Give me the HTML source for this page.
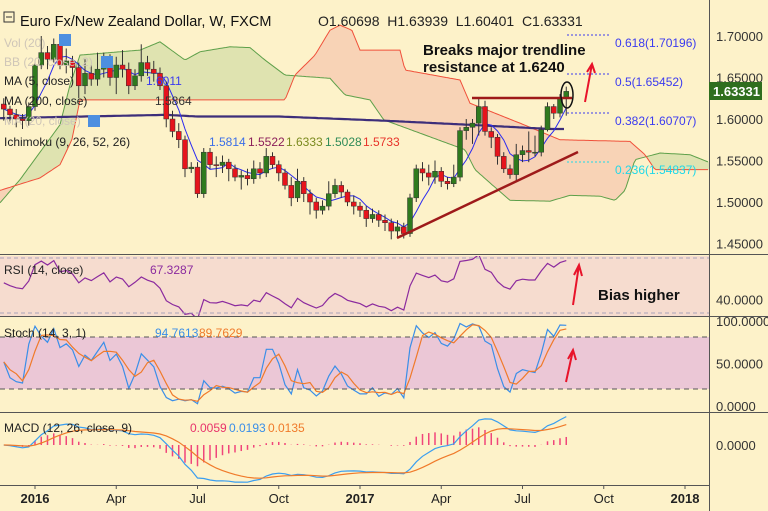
<!DOCTYPE html>
<html><head><meta charset="utf-8">
<style>
html,body{margin:0;padding:0;background:#fdf2c9;}
svg{display:block;font-family:"Liberation Sans",sans-serif;}
</style></head>
<body>
<svg id="chart" width="768" height="511" viewBox="0 0 768 511" xmlns="http://www.w3.org/2000/svg">
<defs>
<clipPath id="cp-price"><rect x="0" y="0" width="709" height="254"/></clipPath>
<clipPath id="cp-rsi"><rect x="0" y="256" width="709" height="60"/></clipPath>
<clipPath id="cp-stoch"><rect x="0" y="318" width="709" height="94"/></clipPath>
<clipPath id="cp-macd"><rect x="0" y="414" width="709" height="71"/></clipPath>
</defs>
<rect x="0" y="0" width="768" height="511" fill="#fdf2c9"/>
<rect x="0" y="256" width="709" height="60" fill="#f6dccf"/>
<rect x="0" y="337" width="709" height="52" fill="#ebc7d6"/>
<g id="cloud" clip-path="url(#cp-price)"></g>
<g id="price" clip-path="url(#cp-price)"></g>
<g id="rsi" clip-path="url(#cp-rsi)"></g>
<g id="stoch" clip-path="url(#cp-stoch)"></g>
<g id="macd" clip-path="url(#cp-macd)"></g>
<g id="axes"></g>

<line x1="0" y1="254.5" x2="768" y2="254.5" stroke="#555"/>
<line x1="0" y1="316.5" x2="768" y2="316.5" stroke="#555"/>
<line x1="0" y1="412.5" x2="768" y2="412.5" stroke="#555"/>
<line x1="0" y1="485.5" x2="709" y2="485.5" stroke="#555"/>
<line x1="709.5" y1="0" x2="709.5" y2="511" stroke="#555"/>
<line x1="0" y1="258" x2="709" y2="258" stroke="#a9a3b8" stroke-dasharray="4,3"/>
<line x1="0" y1="313" x2="709" y2="313" stroke="#a9a3b8" stroke-dasharray="4,3"/>
<line x1="0" y1="337" x2="709" y2="337" stroke="#555" stroke-dasharray="5,4"/>
<line x1="0" y1="389" x2="709" y2="389" stroke="#555" stroke-dasharray="5,4"/>

<g>
<rect x="4" y="12" width="10" height="10" fill="none" stroke="#333"/>
<line x1="6" y1="17" x2="12" y2="17" stroke="#333"/>
<text x="20" y="26" fill="#111" font-size="14.5">Euro Fx/New Zealand Dollar, W, FXCM</text>
<text x="318" y="26" fill="#222" font-size="14">O1.60698&#160;&#160;H1.63939&#160;&#160;L1.60401&#160;&#160;C1.63331</text>
</g>
<g font-size="12">
<text x="4" y="47" fill="#cfc6b8">Vol (20)</text>
<text x="4" y="66" fill="#cfc6b8">BB (20, close, 2)</text>
<text x="4" y="85" fill="#222">MA (5, close)</text>
<text x="146" y="85" fill="#3a3af0">1.6011</text>
<text x="4" y="105" fill="#222">MA (200, close)</text>
<text x="155" y="105" fill="#333">1.5864</text>
<text x="4" y="125" fill="#cfc6b8">MA (20, close)</text>
<text x="4" y="146" fill="#222">Ichimoku (9, 26, 52, 26)</text>
<text x="209" y="146" fill="#3a6ee8">1.5814</text>
<text x="248" y="146" fill="#8b1e5a">1.5522</text>
<text x="286" y="146" fill="#7a8a1e">1.6333</text>
<text x="325" y="146" fill="#2e8b57">1.5028</text>
<text x="363" y="146" fill="#e8332a">1.5733</text>
<rect x="59" y="34" width="12" height="12" fill="#4d8fe0"/>
<rect x="101" y="56" width="12" height="12" fill="#4d8fe0"/>
<rect x="88" y="115" width="12" height="12" fill="#4d8fe0"/>
<text x="4" y="274" fill="#222">RSI (14, close)</text>
<text x="150" y="274" fill="#8b2a9e">67.3287</text>
<text x="4" y="337" fill="#222">Stoch (14, 3, 1)</text>
<text x="155" y="337" fill="#3a8ee8">94.7613</text>
<text x="199" y="337" fill="#f07a2a">89.7629</text>
<text x="4" y="432" fill="#222">MACD (12, 26, close, 9)</text>
<text x="190" y="432" fill="#e8336b">0.0059</text>
<text x="229" y="432" fill="#3a8ee8">0.0193</text>
<text x="268" y="432" fill="#f07a2a">0.0135</text>
</g>

<g>
<text x="423" y="55" font-size="15" font-weight="bold" fill="#111">Breaks major trendline</text>
<text x="423" y="72" font-size="15" font-weight="bold" fill="#111">resistance at 1.6240</text>
<line x1="472" y1="98" x2="572" y2="98" stroke="#9e1a1a" stroke-width="2.5"/>
<line x1="397" y1="238" x2="578" y2="152" stroke="#9e1a1a" stroke-width="2.5"/>
<ellipse cx="567" cy="95" rx="6" ry="13" fill="none" stroke="#111" stroke-width="1.5"/>
<g stroke="#e8132a" stroke-width="2" fill="none">
<path d="M585 102 L592 64 M587 72 L592 64 L595 73"/>
<path d="M573 305 L579 265 M574 275 L579 265 L582 276"/>
<path d="M566 382 L573 350 M568 359 L573 350 L576 360"/>
</g>
<text x="598" y="300" font-size="15" font-weight="bold" fill="#111">Bias higher</text>
<g stroke-dasharray="2,2" stroke-width="1">
<line x1="567" y1="35" x2="610" y2="35" stroke="#3a3af0"/>
<line x1="567" y1="74" x2="610" y2="74" stroke="#3a3af0"/>
<line x1="567" y1="113" x2="610" y2="113" stroke="#3a3af0"/>
<line x1="567" y1="162" x2="610" y2="162" stroke="#1fd8e8"/>
</g>
<g font-size="12">
<text x="615" y="47" fill="#3a3af0">0.618(1.70196)</text>
<text x="615" y="86" fill="#3a3af0">0.5(1.65452)</text>
<text x="615" y="125" fill="#3a3af0">0.382(1.60707)</text>
<text x="615" y="174" fill="#1fd8e8">0.236(1.54837)</text>
</g>
</g>
<g>
<rect x="709" y="82" width="53" height="18" fill="#2f6e1e"/>
<text x="713" y="96" font-size="13" fill="#fff" font-weight="bold">1.63331</text>
</g>
</svg>
<script>
const weeks = [];
for (let w = -5; w <= 85; w++) weeks.push(w);
const firstOpen = 1.618;
const closes = [1.612,1.605,1.600,1.598,1.615,
1.665,1.680,1.672,1.690,1.665,
1.670,1.662,1.640,1.655,
1.648,1.660,1.672,1.650,1.665,
1.660,1.640,1.652,1.668,1.660,
1.655,1.640,1.600,1.585,
1.575,1.540,1.542,1.510,
1.560,1.545,1.544,1.548,
1.540,1.530,1.532,1.528,
1.540,1.535,1.555,1.545,
1.535,1.520,1.505,1.525,
1.510,1.500,1.490,1.495,
1.510,1.520,1.512,1.500,
1.495,1.490,1.480,1.485,
1.478,1.475,1.465,1.470,1.462,
1.505,1.540,1.535,1.530,1.537,1.525,1.522,1.530,1.586,1.590,1.595,1.615,1.585,1.578,1.555,1.540,1.533,1.557,1.562,1.560,1.560,1.587,1.615,1.607,1.625,1.6333];
const highs = [1.625,1.616,1.612,1.606,1.620,
1.670,1.700,1.688,1.697,1.695,
1.685,1.676,1.668,1.672,
1.665,1.680,1.680,1.678,1.675,
1.683,1.668,1.660,1.690,1.676,
1.670,1.662,1.645,1.610,
1.595,1.580,1.548,1.548,
1.565,1.565,1.555,1.556,
1.552,1.545,1.538,1.540,
1.550,1.548,1.565,1.560,
1.550,1.540,1.530,1.540,
1.530,1.515,1.505,1.502,
1.525,1.528,1.525,1.515,
1.508,1.500,1.495,1.492,
1.490,1.485,1.480,1.478,1.475,
1.510,1.545,1.548,1.545,1.550,1.542,1.530,1.545,1.590,1.600,1.600,1.625,1.622,1.590,1.582,1.560,1.545,1.570,1.568,1.585,1.580,1.592,1.620,1.618,1.630,1.639];
const lows = [1.598,1.595,1.590,1.588,1.592,
1.610,1.660,1.660,1.668,1.660,
1.655,1.650,1.625,1.630,
1.640,1.640,1.650,1.640,1.630,
1.650,1.630,1.635,1.645,1.652,
1.645,1.635,1.590,1.578,
1.565,1.530,1.535,1.505,
1.505,1.540,1.530,1.535,
1.525,1.525,1.515,1.520,
1.522,1.528,1.530,1.540,
1.525,1.515,1.495,1.500,
1.500,1.485,1.480,1.485,
1.490,1.505,1.505,1.495,
1.485,1.482,1.470,1.475,
1.470,1.465,1.455,1.458,1.456,
1.458,1.500,1.525,1.520,1.522,1.518,1.515,1.518,1.525,1.575,1.570,1.580,1.580,1.565,1.545,1.535,1.528,1.525,1.548,1.548,1.555,1.555,1.585,1.600,1.602,1.604];
const spanAWeeks = [-5.6,-2.4,4,5.6,7.2,16.8,20,24,26.4,31.2,34.4,36.8,40,47.2,49.6,53.6,55.8,68.8,70.4,72.8,76,82.4,85.6,90.4,92.8,94.4,96,100,104.8,107.8];
const spanAVals = [1.499,1.527,1.593,1.641,1.677,1.683,1.693,1.671,1.681,1.687,1.686,1.671,1.653,1.649,1.629,1.623,1.599,1.563,1.539,1.523,1.502,1.501,1.508,1.507,1.502,1.514,1.551,1.559,1.557,1.548];
const spanBWeeks = [-5.6,0.8,4,5.9,7.2,40,41.6,44.8,47.2,48.8,50.7,52,58.4,59.2,68,69.6,77.6,84,95.2,97.6,99.2,107.8];
const spanBVals = [1.514,1.529,1.545,1.575,1.623,1.623,1.653,1.677,1.707,1.713,1.707,1.683,1.683,1.659,1.647,1.619,1.595,1.575,1.573,1.557,1.539,1.539];
const ma200Weeks = [-5.6,21,26,39,55.8,69.6,82.4,85];
const ma200Vals = [1.601,1.605,1.603,1.603,1.598,1.593,1.588,1.588];
const priceTicks = [1.70,1.65,1.60,1.55,1.50,1.45];
const timeLabels = ["2016","Apr","Jul","Oct","2017","Apr","Jul","Oct","2018"];
const timeLabelWeeks = [0,13,26,39,52,65,78,91,104];
const timeLabelBold = [true,false,false,false,true,false,false,false,true];

const X = w => 35 + w * 6.25;
const Y = p => 36 + (1.70 - p) * 830;
const YR = v => 258 + (70 - v) * 1.375;
const YS = v => 406 - v * 0.85;
const YM = v => 445 - v * 1300;
const NS = "http://www.w3.org/2000/svg";
function mk(tag, attrs, parent) {
  const e = document.createElementNS(NS, tag);
  for (const k in attrs) e.setAttribute(k, attrs[k]);
  parent.appendChild(e);
  return e;
}
function interp(ws, vs, w) {
  if (w <= ws[0]) return vs[0];
  for (let i = 1; i < ws.length; i++) if (w <= ws[i]) {
    const t = (w - ws[i-1]) / (ws[i] - ws[i-1]);
    return vs[i-1] + t * (vs[i] - vs[i-1]);
  }
  return vs[vs.length - 1];
}
function pathFrom(pts) { return pts.map((p, i) => (i ? "L" : "M") + p[0].toFixed(1) + " " + p[1].toFixed(1)).join(" "); }

const cloudG = document.getElementById("cloud");
for (let px = 0; px < 709; px += 2) {
  const w0 = (px - 35) / 6.25, w1 = (px + 2 - 35) / 6.25;
  const a0 = interp(spanAWeeks, spanAVals, w0), a1 = interp(spanAWeeks, spanAVals, w1);
  const b0 = interp(spanBWeeks, spanBVals, w0), b1 = interp(spanBWeeks, spanBVals, w1);
  const seg = mk("polygon", {points: `${px},${Y(a0)} ${px+2.3},${Y(a1)} ${px+2.3},${Y(b1)} ${px},${Y(b0)}`,
    fill: (a0 + a1) > (b0 + b1) ? "#dfe3b0" : "#f8d3b6", stroke: "none"}, cloudG);
  
  
}
const aPts = [], bPts = [];
for (let px = 0; px <= 709; px += 2) {
  const w = (px - 35) / 6.25;
  aPts.push([px, Y(interp(spanAWeeks, spanAVals, w))]);
  bPts.push([px, Y(interp(spanBWeeks, spanBVals, w))]);
}
const la = mk("path", {d: pathFrom(aPts), fill: "none", stroke: "#5ea04a", "stroke-width": 1}, cloudG);


const lb = mk("path", {d: pathFrom(bPts), fill: "none", stroke: "#f0503a", "stroke-width": 1}, cloudG);



const priceG = document.getElementById("price");
const ma200Pts = [];
for (let px = 0; px <= X(85); px += 3) ma200Pts.push([px, Y(interp(ma200Weeks, ma200Vals, (px - 35) / 6.25))]);
const ma200 = mk("path", {d: pathFrom(ma200Pts), fill: "none", stroke: "#3d2e7a", "stroke-width": 2.2}, priceG);


const opens = closes.map((c, i) => i ? closes[i-1] : firstOpen);
const ma5Pts = [];
closes.forEach((c, i) => {
  const s = closes.slice(Math.max(0, i - 4), i + 1);
  ma5Pts.push([X(weeks[i]), Y(s.reduce((a, b) => a + b, 0) / s.length)]);
});
const ma5 = mk("path", {d: pathFrom(ma5Pts), fill: "none", stroke: "#2b2bf0", "stroke-width": 1}, priceG);


closes.forEach((c, i) => {
  const x = X(weeks[i]), o = opens[i];
  const up = c >= o;
  const wick = mk("line", {x1: x, x2: x, y1: Y(highs[i]), y2: Y(lows[i]), stroke: "#333", "stroke-width": 1}, priceG);
  
  
  const top = Y(Math.max(o, c)), bot = Y(Math.min(o, c));
  const body = mk("rect", {x: x - 2.5, y: top, width: 5, height: Math.max(1, bot - top),
    fill: up ? "#2f7a1e" : "#e6141c", stroke: "#333", "stroke-width": 0.5}, priceG);
  
  
});

// RSI (Wilder, seeded with neutral averages)
const rsiVals = [];
{
  let ag = 0.007, al = 0.006;
  for (let i = 0; i < closes.length; i++) {
    const d = closes[i] - (i ? closes[i-1] : firstOpen);
    const g = Math.max(d, 0), l = Math.max(-d, 0);
    ag = (ag * 13 + g) / 14; al = (al * 13 + l) / 14;
    rsiVals.push(al === 0 ? 100 : 100 - 100 / (1 + ag / al));
  }
}
const rsiLine = mk("path", {d: pathFrom(rsiVals.map((v, i) => [X(weeks[i]), YR(v)])), fill: "none", stroke: "#8b2a9e", "stroke-width": 1.2}, document.getElementById("rsi"));



const kVals = closes.map((c, i) => {
  const s = Math.max(0, i - 13);
  const hh = Math.max(...highs.slice(s, i + 1)), ll = Math.min(...lows.slice(s, i + 1));
  return hh === ll ? 50 : (c - ll) / (hh - ll) * 100;
});
const dVals = kVals.map((k, i) => { const s = kVals.slice(Math.max(0, i - 2), i + 1); return s.reduce((a, b) => a + b, 0) / s.length; });
const stG = document.getElementById("stoch");
const kl = mk("path", {d: pathFrom(kVals.map((v, i) => [X(weeks[i]), YS(v)])), fill: "none", stroke: "#3a8ee8", "stroke-width": 1.2}, stG);


const dl = mk("path", {d: pathFrom(dVals.map((v, i) => [X(weeks[i]), YS(v)])), fill: "none", stroke: "#f07a2a", "stroke-width": 1.2}, stG);



function ema(arr, n) { const k = 2 / (n + 1); const out = []; arr.forEach((v, i) => out.push(i ? v * k + out[i-1] * (1 - k) : v)); return out; }
const e12 = ema(closes, 12), e26 = ema(closes, 26);
const macdVals = e12.map((v, i) => v - e26[i]);
const sigVals = ema(macdVals, 9);
const mG = document.getElementById("macd");
macdVals.forEach((m, i) => {
  const h = m - sigVals[i], x = X(weeks[i]);
  const bar = mk("line", {x1: x, x2: x, y1: YM(0), y2: YM(h), stroke: "#f0457a", "stroke-width": 1.5}, mG);
  
  
});
const ml = mk("path", {d: pathFrom(macdVals.map((v, i) => [X(weeks[i]), YM(v)])), fill: "none", stroke: "#3a9ef0", "stroke-width": 1.2}, mG);


const sl = mk("path", {d: pathFrom(sigVals.map((v, i) => [X(weeks[i]), YM(v)])), fill: "none", stroke: "#f07a2a", "stroke-width": 1.2}, mG);



const ax = document.getElementById("axes");
priceTicks.forEach(p => {
  const t = mk("text", {x: 716, y: Y(p) + 5, "font-size": 13, fill: "#333"}, ax);
  t.textContent = p.toFixed(5);
  
  
});
[[YR(40), "40.0000"], [YS(100), "100.0000"], [YS(50), "50.0000"], [YS(0), "0.0000"], [YM(0), "0.0000"]].forEach(([y, s]) => {
  const t = mk("text", {x: 716, y: y + 5, "font-size": 13, fill: "#333"}, ax);
  t.textContent = s;
  
  
});
timeLabels.forEach((s, i) => {
  const x = X(timeLabelWeeks[i]);
  const tk = mk("line", {x1: x, x2: x, y1: 485, y2: 489, stroke: "#555"}, ax);
  
  
  const t = mk("text", {x: x, y: 503, "font-size": 13, fill: "#222", "text-anchor": "middle", "font-weight": timeLabelBold[i] ? "bold" : "normal"}, ax);
  t.textContent = s;
  
  
});
</script>
</body></html>
